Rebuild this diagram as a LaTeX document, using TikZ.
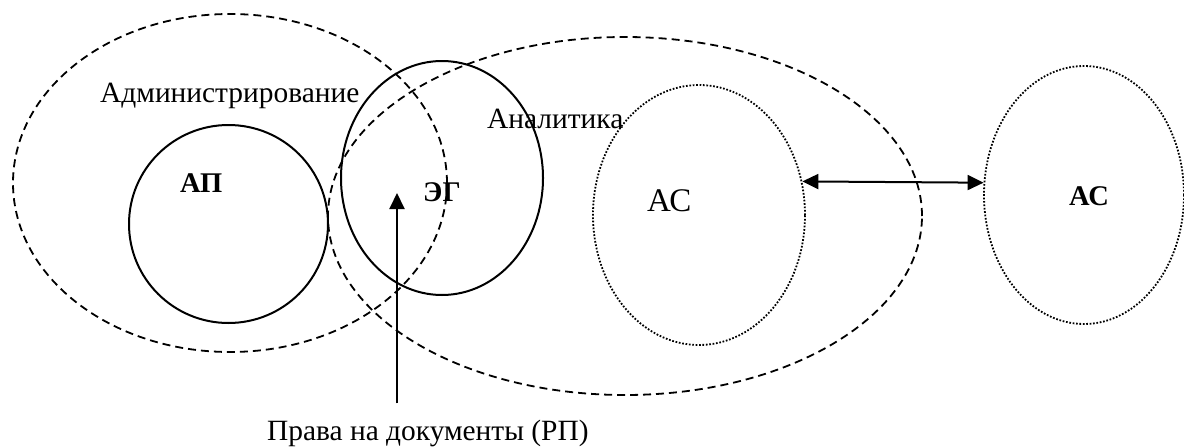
\documentclass[tikz,border=0pt]{standalone}
\usepackage{fontspec}
\setmainfont{Liberation Serif}
\usetikzlibrary{shapes.geometric,arrows.meta}
\definecolor{ink}{HTML}{000000}
\tikzset{
  zone/.style ={ellipse, draw=ink, line width=1.8pt, dash pattern=on 8pt off 5pt, inner sep=0pt},
  part/.style ={ellipse, draw=ink, line width=2pt, inner sep=0pt},
  sys/.style  ={ellipse, draw=ink, line width=1.8pt, dash pattern=on 1.7pt off 1.7pt, inner sep=0pt},
  lbl/.style  ={font=\fontsize{29.4}{33}\selectfont, inner sep=0pt, anchor=base west},
  lblb/.style ={lbl, font=\fontsize{28.5}{32}\selectfont\bfseries},
  ln/.style   ={draw=ink, line width=2pt, -{Triangle[length=16pt,width=15pt]}},
  lnb/.style  ={draw=ink, line width=2pt, {Triangle[length=16pt,width=15pt]}-{Triangle[length=16pt,width=15pt]}},
}
\begin{document}
\begin{tikzpicture}[x=1pt,y=1pt]
    \useasboundingbox (0,0) rectangle (1184,-447);
    % zones
    \node[zone,minimum width=434pt,minimum height=338pt] (adm) at (230,-183) {};
    \node[zone,minimum width=594pt,minimum height=358pt] (ana) at (625,-216) {};
    % parts
    \node[part,minimum width=199pt,minimum height=198pt] (ap) at (228.5,-224) {};
    \node[part,minimum width=202pt,minimum height=234pt] (eg) at (442,-178) {};
    \node[sys, minimum width=212pt,minimum height=260pt] (ac1) at (699,-215) {};
    \node[sys, minimum width=200pt,minimum height=258pt] (ac2) at (1084,-195) {};

    \node[lbl]  (admlbl) at (100,-102) {Администрирование};
    \node[lbl]  (analbl) at (487,-128) {Аналитика};
    \node[lblb] (aplbl)  at (180,-192) {АП};
    \node[lblb] (eglbl)  at (423,-201) {ЭГ};
    \node[lbl,font=\fontsize{33}{36}\selectfont] (ac1lbl) at (647,-211) {АС};
    \node[lblb] (ac2lbl) at (1069,-205) {АС};
    \node[lbl]  (rp)     at (267,-440) {Права на документы (РП)};

    \coordinate (rptip) at (397,-193);
    \draw[ln] ([yshift=16pt]rptip |- rp.north) -- (rptip);
    \draw[lnb] (ac1.18) -- (ac2.173);
\end{tikzpicture}
\end{document}
